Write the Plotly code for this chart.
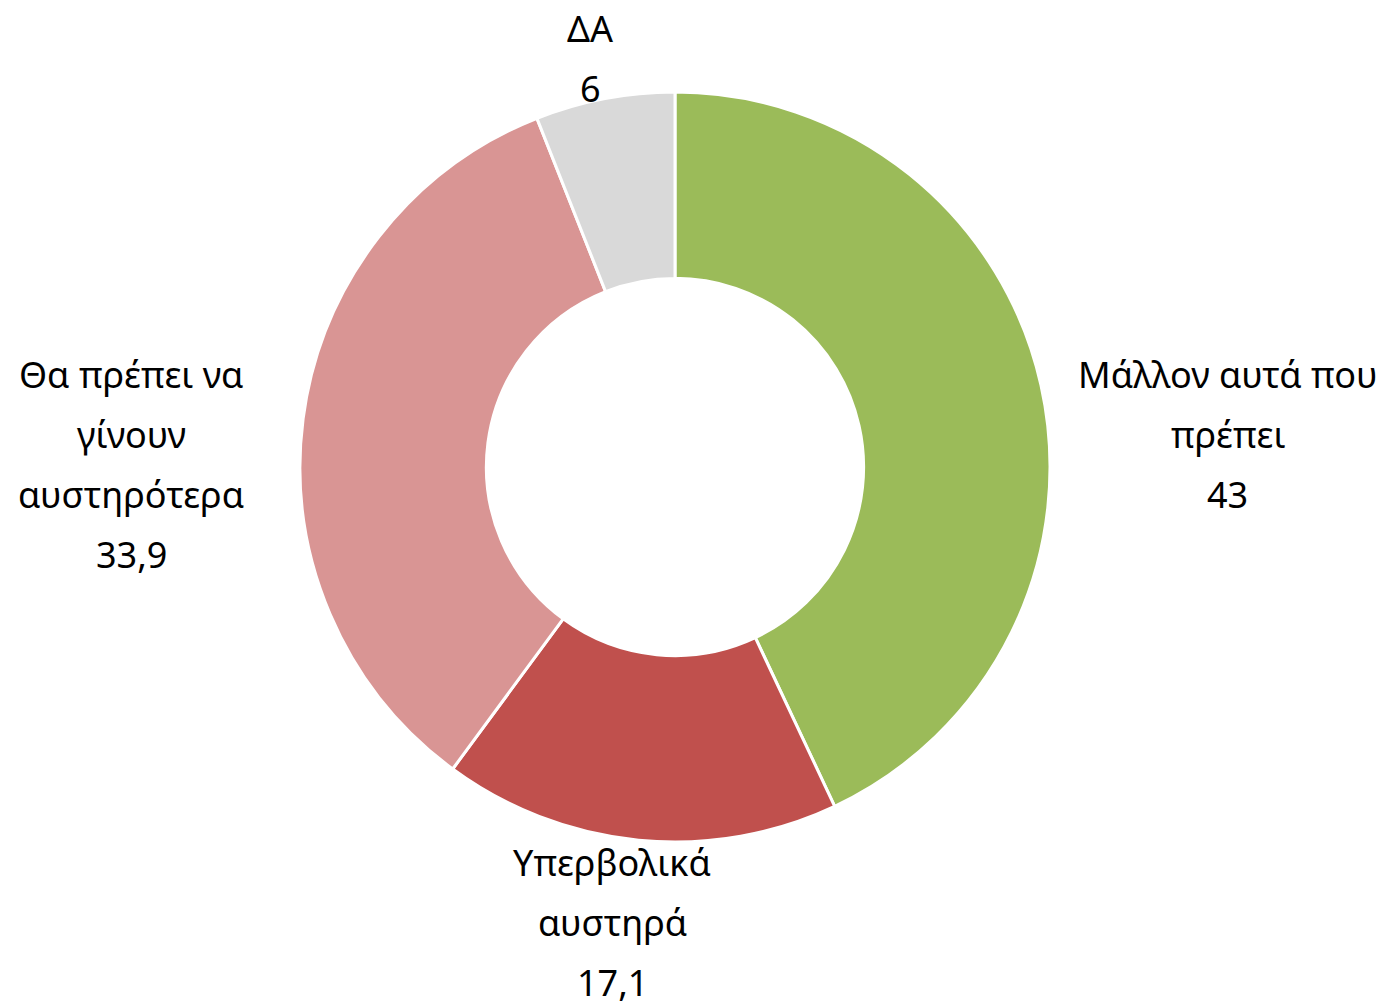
import plotly.graph_objects as go

categories = ["Μάλλον αυτά που πρέπει", "Υπερβολικά αυστηρά", "Θα πρέπει να γίνουν αυστηρότερα", "ΔΑ"]
values = [43, 17.1, 33.9, 6]
value_labels = ["43", "17,1", "33,9", "6"]
label_lines = [
    ["Μάλλον αυτά που", "πρέπει"],
    ["Υπερβολικά", "αυστηρά"],
    ["Θα πρέπει να", "γίνουν", "αυστηρότερα"],
    ["ΔΑ"],
]
colors = ["#9BBB59", "#C0504D", "#D99594", "#D9D9D9"]

# label block centres in paper coords (pie domain = paper)
label_pos = [(1.2373, 0.5427), (0.416, -0.1067), (-0.2253, 0.5027), (0.3867, 1.0453)]

FONT = "Noto Sans"
FS = 36
LINE = 60

fig = go.Figure(go.Pie(
    labels=categories,
    values=values,
    hole=0.503,
    sort=False,
    direction="clockwise",
    rotation=0,
    marker=dict(colors=colors, line=dict(color="white", width=3)),
    textinfo="none",
    hoverinfo="label+value",
    showlegend=False,
))

annotations = []
for lines, val, (x, y) in zip(label_lines, value_labels, label_pos):
    all_lines = lines + [val]
    n = len(all_lines)
    for i, t in enumerate(all_lines):
        annotations.append(dict(
            x=x, y=y, xref="paper", yref="paper",
            text=t, showarrow=False,
            xanchor="center", yanchor="middle",
            yshift=((n - 1) / 2 - i) * LINE,
            font=dict(family=FONT, size=FS, color="#000000"),
        ))

fig.update_layout(
    width=1389, height=1001,
    margin=dict(l=292, r=347, t=84, b=167),
    paper_bgcolor="white",
    plot_bgcolor="white",
    annotations=annotations,
)

fig.write_html("out.html")
